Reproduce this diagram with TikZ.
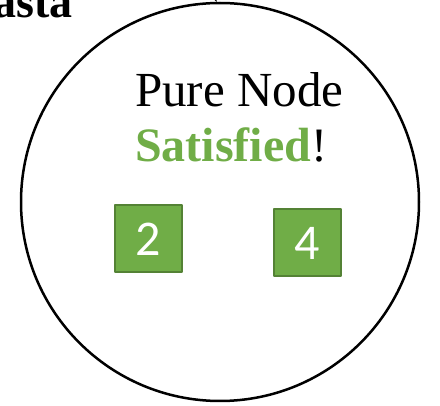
\documentclass[tikz,border=0pt]{standalone}
\usepackage{fontspec}
\setmainfont{Liberation Serif}
\newfontfamily\numfont{Carlito}
\definecolor{leafgreen}{HTML}{70AD47}
\definecolor{leafedge}{HTML}{548235}
\begin{document}
\begin{tikzpicture}[x=1pt, y=-1pt, line join=round, line cap=round, >=stealth,
	numbox/.style={draw=leafedge, fill=leafgreen, line width=2pt, minimum size=67pt, inner sep=0pt, text=white, font=\numfont\fontsize{50}{50}\selectfont}]
	\useasboundingbox (0,0) rectangle (440,406);
	\node [circle, draw, line width=2.5pt, minimum size=398pt, inner sep=0pt] (pure) at (220,202) {}; % nút thuần
	\node [anchor=base east, inner sep=0pt, font=\bfseries\fontsize{46}{46}\selectfont] (name) at (73,18) {asta};
	\coordinate (src) at (200,-40);
	\draw [->, line width=2pt] (src) -- (pure.91);
	\node [anchor=base west, inner sep=0pt, font=\fontsize{49}{49}\selectfont] (title) at (135,107) {Pure Node};
	\node [anchor=base west, inner sep=0pt, font=\fontsize{48}{48}\selectfont] (state) at (135,162) {\textcolor{leafgreen}{\bfseries Satisfied}!};
	\node [numbox] (two) at (148,239) {2};
	\node [numbox] (four) at (307,243) {4};
\end{tikzpicture}
\end{document}
